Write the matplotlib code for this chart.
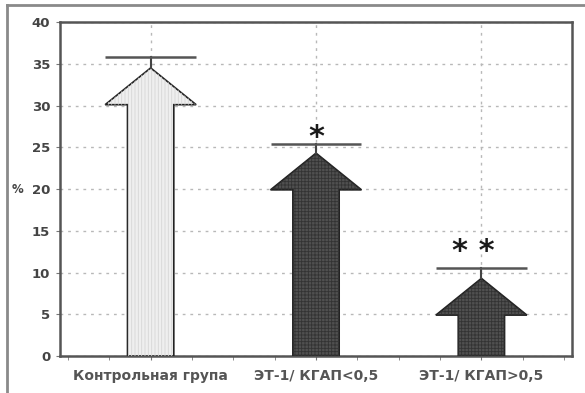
import matplotlib.pyplot as plt
from matplotlib.lines import Line2D
import numpy as np

groups = ['Контрольная група', 'ЭТ-1/ КГАП<0,5', 'ЭТ-1/ КГАП>0,5']
values = [34.5, 24.3, 9.3]
errors = [1.3, 1.1, 1.3]
marks = ['', '*', '* *']
yticks = [0, 5, 10, 15, 20, 25, 30, 35, 40]

plt.rcParams['hatch.linewidth'] = 0.6

fig = plt.figure(figsize=(5.85, 3.93), dpi=100)
ax = fig.add_axes([0.1026, 0.0941, 0.8752, 0.8499])

# outer frame of the figure (top and left edges only)
fig.add_artist(Line2D([0.012, 1.0], [0.987, 0.987], color='#8a8a8a', lw=2))
fig.add_artist(Line2D([0.012, 0.012], [0.0, 0.987], color='#8a8a8a', lw=2))

shaft_w = 0.28
head_w = 0.55
head_len = 4.4
faces = ['#efefef', '#505050', '#505050']
hatches = ['|||||', '+++++', '+++++']
hatch_cols = ['#d6d6d6', '#333333', '#333333']

x = np.arange(len(groups))
for xi, v, e, fc, h, hc in zip(x, values, errors, faces, hatches, hatch_cols):
    ax.arrow(xi, 0, 0, v, width=shaft_w, head_width=head_w, head_length=head_len,
             length_includes_head=True, facecolor=fc, edgecolor='#222222',
             lw=1.2, zorder=3)
    ax.arrow(xi, 0, 0, v, width=shaft_w, head_width=head_w, head_length=head_len,
             length_includes_head=True, facecolor='none', edgecolor=hc,
             hatch=h, lw=0, zorder=3)
    # error bar: stem from arrow tip up to a wide cap
    ax.plot([xi, xi], [v, v + e], color='#444444', lw=1.5, zorder=4)
    ax.plot([xi - head_w / 2, xi + head_w / 2], [v + e, v + e],
            color='#555555', lw=1.8, zorder=4, solid_capstyle='butt')

# significance marks, raised a little above each cap
mark_gap = [0, -0.3, 0.9]
for xi, v, e, m, g in zip(x, values, errors, marks, mark_gap):
    if m:
        ax.text(xi - 0.05 * (len(m) > 1), v + e + g, m, ha='center', va='baseline',
                fontsize=22, fontweight='bold', color='#1a1a1a')

ax.set_xlim(-0.548, 2.548)
ax.set_ylim(0, 40)
ax.set_yticks(yticks)
ax.set_yticklabels([str(t) for t in yticks], fontsize=9.5, fontweight='bold',
                   color='#444444')
ax.set_xticks(x)
ax.set_xticklabels(groups, fontsize=10, fontweight='bold', color='#555555')
ax.set_xticks(np.arange(-0.5, 2.51, 0.25), minor=True)
ax.tick_params(axis='x', which='major', length=3, color='#777777', pad=6)
ax.tick_params(axis='x', which='minor', length=3, color='#777777')
ax.tick_params(axis='y', length=3, color='#777777', pad=4)

ax.grid(True, color='#b8b8b8', lw=1, linestyle=(0, (2, 3.5)), zorder=0)
ax.set_axisbelow(True)
for s in ax.spines.values():
    s.set_color('#555555')
    s.set_linewidth(1.8)

ax.set_ylabel('%', rotation=0, fontsize=8.5, fontweight='bold', color='#444444',
              va='center')
ax.yaxis.set_label_coords(-0.083, 0.5)

fig.savefig('out.png', dpi=100)
